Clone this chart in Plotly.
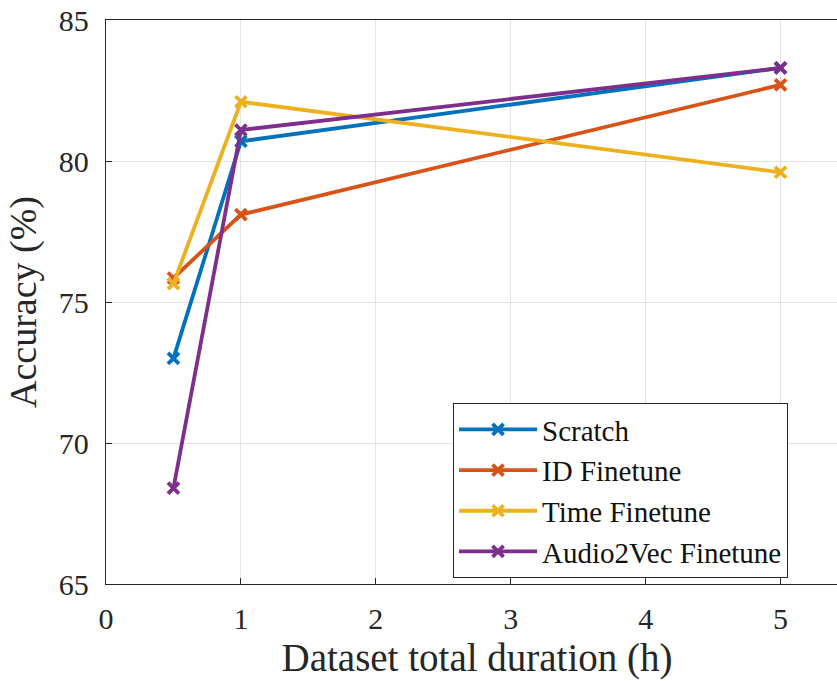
import plotly.graph_objects as go

x_hours = [0.5, 1, 5]
scratch = [73.0, 80.7, 83.3]
id_finetune = [75.85, 78.1, 82.7]
time_finetune = [75.65, 82.1, 79.6]
audio2vec_finetune = [68.4, 81.1, 83.3]

series = [
    ("Scratch", scratch, "#0072BD"),
    ("ID Finetune", id_finetune, "#D95319"),
    ("Time Finetune", time_finetune, "#EDB120"),
    ("Audio2Vec Finetune", audio2vec_finetune, "#7E2F8E"),
]

FONT = "Liberation Serif, DejaVu Serif, serif"
fig = go.Figure()
for name, ys, col in series:
    fig.add_trace(go.Scatter(
        x=x_hours, y=ys, name=name, mode="lines+markers",
        line=dict(color=col, width=3.8),
        marker=dict(symbol="x-thin", size=11, color=col, line=dict(color=col, width=3.8)),
    ))

axis_common = dict(
    showgrid=True, gridcolor="#e3e3e3", gridwidth=1,
    showline=True, linecolor="#262626", linewidth=1.3,
    ticks="inside", ticklen=6, tickcolor="#262626",
    zeroline=False, ticklabeloverflow="allow",
    tickfont=dict(family=FONT, size=30, color="#262626"),
)

fig.update_layout(
    width=848, height=681,
    margin=dict(l=106, r=0, t=20, b=97, autoexpand=False),
    paper_bgcolor="white", plot_bgcolor="white",
    font=dict(family=FONT, color="#262626"),
    xaxis=dict(range=[0, 5.5], tickvals=[0, 1, 2, 3, 4, 5], mirror=True,
               ticklabelstandoff=8,
               title=dict(text="Dataset total duration (h)", font=dict(family=FONT, size=39, color="#262626"), standoff=9),
               **axis_common),
    yaxis=dict(range=[65, 85], tickvals=[65, 70, 75, 80, 85],
               ticklabelstandoff=10,
               title=dict(text="Accuracy (%)", font=dict(family=FONT, size=38, color="#262626"), standoff=10),
               **axis_common),
    legend=dict(x=0.4677, y=0.3209, xanchor="left", yanchor="top",
                bordercolor="#262626", borderwidth=1, bgcolor="white",
                font=dict(family=FONT, size=29, color="#111111"),
                itemwidth=78, entrywidth=280, entrywidthmode="pixels",
                tracegroupgap=0),
    showlegend=True,
)

fig.write_html(
    "out.html",
    config={"displayModeBar": False},
    post_script="document.body.style.margin='0';document.body.style.overflow='hidden';document.documentElement.style.overflow='hidden';",
)
